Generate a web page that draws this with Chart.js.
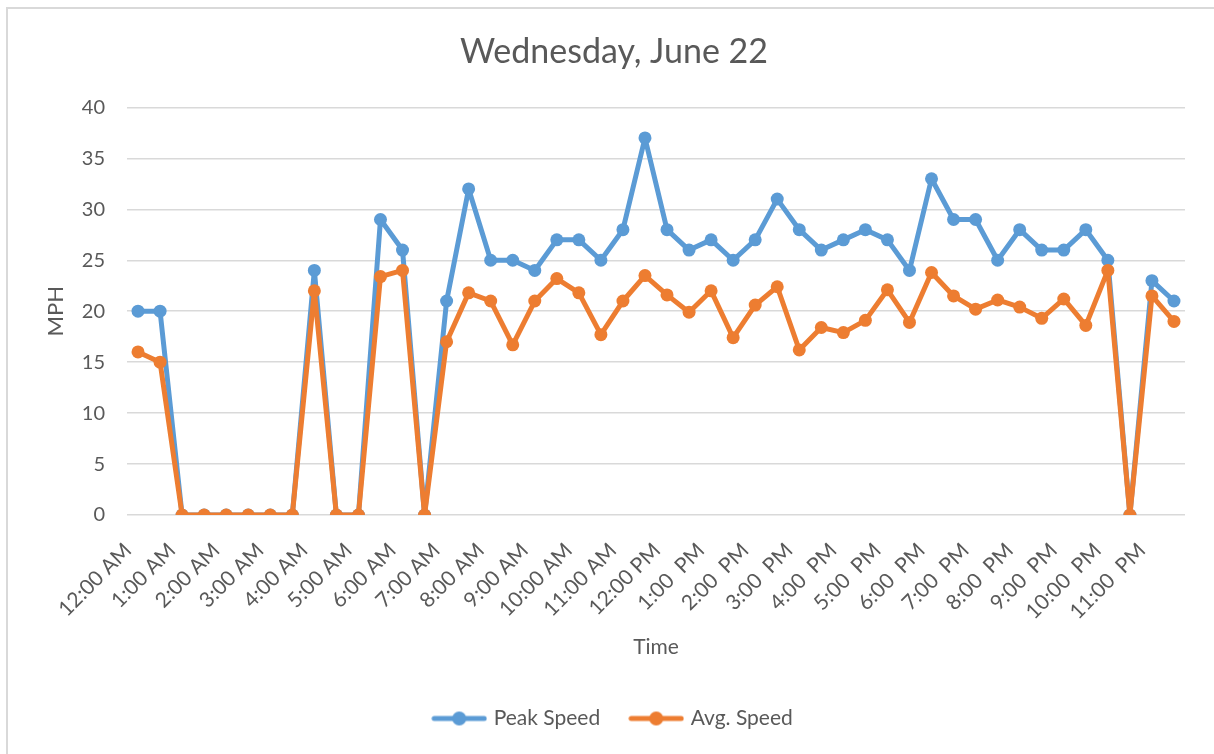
<!DOCTYPE html>
<html>
<head>
<meta charset="utf-8">
<script src="https://cdn.jsdelivr.net/npm/chart.js@4/dist/chart.umd.min.js"></script>
<style>
  html, body { margin: 0; padding: 0; background: #fff; }
  canvas { display: block; }
</style>
</head>
<body>
<canvas id="myChart" width="1214" height="754"></canvas>
<script>
// half-hour readings for the day
var times = [
  '12:00 AM', '12:30 AM', '1:00 AM', '1:30 AM', '2:00 AM', '2:30 AM', '3:00 AM', '3:30 AM',
  '4:00 AM', '4:30 AM', '5:00 AM', '5:30 AM', '6:00 AM', '6:30 AM', '7:00 AM', '7:30 AM',
  '8:00 AM', '8:30 AM', '9:00 AM', '9:30 AM', '10:00 AM', '10:30 AM', '11:00 AM', '11:30 AM',
  '12:00 PM', '12:30 PM', '1:00 PM', '1:30 PM', '2:00 PM', '2:30 PM', '3:00 PM', '3:30 PM',
  '4:00 PM', '4:30 PM', '5:00 PM', '5:30 PM', '6:00 PM', '6:30 PM', '7:00 PM', '7:30 PM',
  '8:00 PM', '8:30 PM', '9:00 PM', '9:30 PM', '10:00 PM', '10:30 PM', '11:00 PM', '11:30 PM'
]

var tickLabels = [
  '12:00 AM', '1:00 AM', '2:00 AM', '3:00 AM', '4:00 AM', '5:00 AM', '6:00 AM', '7:00 AM',
  '8:00 AM', '9:00 AM', '10:00 AM', '11:00 AM', '12:00 PM', '1:00  PM', '2:00  PM', '3:00  PM',
  '4:00  PM', '5:00  PM', '6:00  PM', '7:00  PM', '8:00  PM', '9:00  PM', '10:00  PM', '11:00  PM'
]

var peakSpeed = [
  20, 20, 0, 0, 0, 0, 0, 0, 24, 0, 0, 29, 26, 0, 21, 32,
  25, 25, 24, 27, 27, 25, 28, 37, 28, 26, 27, 25, 27, 31, 28, 26,
  27, 28, 27, 24, 33, 29, 29, 25, 28, 26, 26, 28, 25, 0, 23, 21
]

var avgSpeed = [
  16, 15, 0, 0, 0, 0, 0, 0, 22, 0, 0, 23.4, 24, 0, 17, 21.8,
  21, 16.7, 21, 23.2, 21.8, 17.7, 21, 23.5, 21.6, 19.9, 22, 17.4, 20.6, 22.4, 16.2, 18.4,
  17.9, 19.1, 22.1, 18.9, 23.8, 21.5, 20.2, 21.1, 20.4, 19.3, 21.2, 18.6, 24, 0, 21.5, 19
]

var blue = '#5B9BD5'
var orange = '#ED7D31'
var textColor = '#595959'
var fontName = 'Lato, "Open Sans", sans-serif'

// legend marker: a short line with a dot in the middle
function legendIcon(color) {
  var c = document.createElement('canvas')
  c.width = 56
  c.height = 16
  var g = c.getContext('2d')
  g.strokeStyle = color
  g.lineWidth = 5
  g.lineCap = 'round'
  g.beginPath()
  g.moveTo(3, 8)
  g.lineTo(53, 8)
  g.stroke()
  g.fillStyle = color
  g.beginPath()
  g.arc(28, 8, 7, 0, Math.PI * 2)
  g.fill()
  return c
}

var frame = {
  id: 'frame',
  beforeDraw: function(chart) {
    var ctx = chart.ctx
    ctx.save()
    ctx.fillStyle = '#fff'
    ctx.fillRect(0, 0, chart.width, chart.height)
    ctx.strokeStyle = '#d9d9d9'
    ctx.lineWidth = 2
    ctx.beginPath()
    ctx.moveTo(7, chart.height)
    ctx.lineTo(7, 8)
    ctx.lineTo(chart.width, 8)
    ctx.stroke()
    ctx.restore()
  }
}

Chart.defaults.font.family = fontName
Chart.defaults.color = textColor

var ctx = document.getElementById('myChart').getContext('2d')
var chartOne = new Chart(ctx, {
  type: 'line',
  data: {
    labels: times,
    datasets: [{
      label: 'Peak Speed',
      data: peakSpeed,
      borderColor: blue,
      backgroundColor: blue,
      borderWidth: 5,
      pointRadius: 6.5,
      pointBorderWidth: 0,
      pointBackgroundColor: blue,
      borderJoinStyle: 'round',
      borderCapStyle: 'round',
      order: 2
    }, {
      label: 'Avg. Speed',
      data: avgSpeed,
      borderColor: orange,
      backgroundColor: orange,
      borderWidth: 5,
      pointRadius: 6.5,
      pointBorderWidth: 0,
      pointBackgroundColor: orange,
      borderJoinStyle: 'round',
      borderCapStyle: 'round',
      order: 1
    }]
  },
  options: {
    responsive: false,
    maintainAspectRatio: false,
    animation: false,
    devicePixelRatio: 1,
    layout: { padding: { left: 43, right: 29, top: 0, bottom: 15 } },
    plugins: {
      title: {
        display: true,
        text: 'Wednesday, June 22',
        color: textColor,
        font: { size: 34, weight: 'normal', lineHeight: 1.2 },
        padding: { top: 31.6, bottom: 35 }
      },
      legend: {
        position: 'bottom',
        labels: {
          usePointStyle: true,
          pointStyleWidth: 48,
          padding: 32,
          color: textColor,
          font: { size: 21 },
          sort: function(a, b) { return a.datasetIndex - b.datasetIndex },
          generateLabels: function(chart) {
            return chart.data.datasets.map(function(ds, i) {
              return {
                text: ds.label,
                fillStyle: ds.borderColor,
                strokeStyle: ds.borderColor,
                lineWidth: 0,
                pointStyle: legendIcon(ds.borderColor),
                fontColor: textColor,
                hidden: false,
                datasetIndex: i
              }
            })
          }
        }
      },
      tooltip: { enabled: false }
    },
    scales: {
      x: {
        offset: true,
        grid: { display: false, drawTicks: false },
        border: { display: false },
        ticks: {
          autoSkip: false,
          minRotation: 45,
          maxRotation: 45,
          padding: 23,
          labelOffset: -10,
          font: { size: 21 },
          color: textColor,
          callback: function(val, idx) {
            return idx % 2 === 0 ? tickLabels[idx / 2] : null
          }
        },
        title: {
          display: true,
          text: 'Time',
          color: textColor,
          font: { size: 21, lineHeight: 1.2 },
          padding: { top: 0, bottom: 16 }
        },
        afterFit: function(scale) { scale.height = 161 }
      },
      y: {
        min: 0,
        max: 40,
        grid: { color: '#d9d9d9', lineWidth: 1.5, drawTicks: false },
        border: { display: false },
        ticks: {
          stepSize: 5,
          padding: 22,
          font: { size: 20 },
          color: textColor
        },
        title: {
          display: true,
          text: 'MPH',
          color: textColor,
          font: { size: 22, lineHeight: 1.2 },
          padding: { top: 0, bottom: 0 }
        },
        afterFit: function(scale) { scale.width = 84 }
      }
    }
  },
  plugins: [frame]
})
</script>
</body>
</html>
